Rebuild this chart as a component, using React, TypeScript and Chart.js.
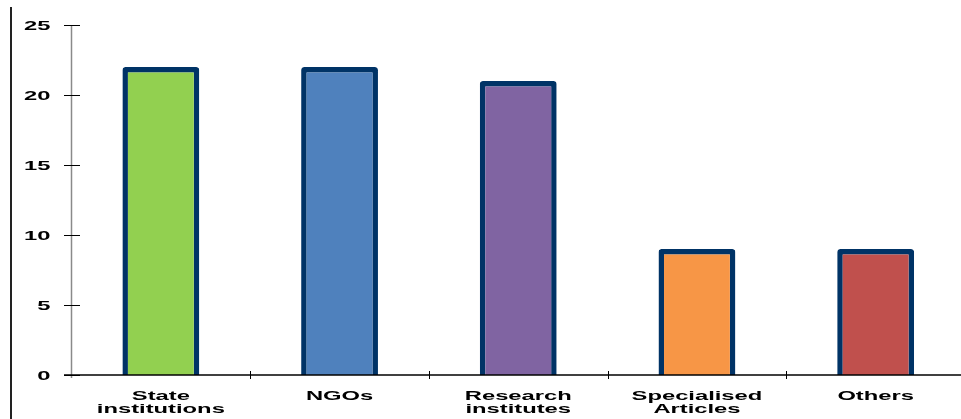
import React, { useEffect, useRef } from "react";
import { Chart, registerables } from "chart.js";

Chart.register(...registerables);

const categories: string[][] = [
  ["State", "institutions"],
  ["NGOs"],
  ["Research", "institutes"],
  ["Specialised", "Articles"],
  ["Others"],
];
const values: number[] = [22, 22, 21, 9, 9];
const barColors: string[] = ["#92D050", "#4F81BD", "#8064A2", "#F79646", "#C0504D"];
const yTicks: number[] = [0, 5, 10, 15, 20, 25];

const FONT = "bold 12.5px 'Liberation Sans', Arial, sans-serif";
const SX = 1.9;

function drawScaledText(ctx: CanvasRenderingContext2D, text: string, x: number, y: number, align: CanvasTextAlign, baseline: CanvasTextBaseline) {
  ctx.save();
  ctx.translate(x, y);
  ctx.scale(SX, 1);
  ctx.font = FONT;
  ctx.fillStyle = "#000";
  ctx.textAlign = align;
  ctx.textBaseline = baseline;
  ctx.fillText(text, 0, 0);
  ctx.restore();
}

const decorPlugin = {
  id: "decor",
  afterDatasetsDraw(chart: any) {
    const ctx: CanvasRenderingContext2D = chart.ctx;
    const { left, right, top, bottom } = chart.chartArea;
    const xs = chart.scales.x;
    const ys = chart.scales.y;
    ctx.save();
    // left frame line
    ctx.strokeStyle = "#222";
    ctx.lineWidth = 2;
    ctx.beginPath();
    ctx.moveTo(11, 7);
    ctx.lineTo(11, chart.height);
    ctx.stroke();
    // y axis line
    ctx.strokeStyle = "#8a8a8a";
    ctx.lineWidth = 1.5;
    ctx.beginPath();
    ctx.moveTo(left, top);
    ctx.lineTo(left, bottom + 3);
    ctx.stroke();
    // y tick marks + labels
    ctx.strokeStyle = "#000";
    ctx.lineWidth = 1;
    yTicks.forEach((v) => {
      const y = Math.round(ys.getPixelForValue(v)) + 0.5;
      ctx.beginPath();
      ctx.moveTo(left - 7.5, y);
      ctx.lineTo(left + 8.5, y);
      ctx.stroke();
      drawScaledText(ctx, String(v), 50.5, ys.getPixelForValue(v) + 4.5, "right", "alphabetic");
    });
    // x axis line
    ctx.strokeStyle = "#000";
    ctx.lineWidth = 1.5;
    ctx.beginPath();
    ctx.moveTo(left - 7.5, bottom);
    ctx.lineTo(chart.width, bottom);
    ctx.stroke();
    // category boundary ticks
    const n = categories.length;
    const cw = (right - left) / n;
    ctx.lineWidth = 1;
    for (let i = 1; i <= n; i++) {
      const x = Math.round(left + cw * i) + 0.5;
      ctx.beginPath();
      ctx.moveTo(x, bottom - 4);
      ctx.lineTo(x, bottom + 4);
      ctx.stroke();
    }
    // category labels
    categories.forEach((lines, i) => {
      const cx = xs.getPixelForTick(i);
      lines.forEach((t, j) => {
        drawScaledText(ctx, t, cx, 399.5 + j * 13, "center", "alphabetic");
      });
    });
    ctx.restore();
  },
};

export default function App() {
  const ref = useRef<HTMLCanvasElement | null>(null);
  useEffect(() => {
    if (!ref.current) return;
    const chart = new Chart(ref.current, {
      type: "bar",
      data: {
        labels: categories.map((c) => c.join(" ")),
        datasets: [
          {
            data: values,
            backgroundColor: barColors,
            borderColor: "#003366",
            borderWidth: 5.5,
            borderRadius: 3,
            borderSkipped: "start",
            barPercentage: 0.86,
            categoryPercentage: 0.5,
          },
        ],
      },
      options: {
        responsive: false,
        animation: false,
        layout: { padding: { left: 0, top: 25, right: 10, bottom: 0 } },
        plugins: { legend: { display: false }, tooltip: { enabled: false } },
        scales: {
          x: {
            grid: { display: false, drawTicks: false },
            border: { display: false },
            ticks: { display: false },
            afterFit: (s: any) => {
              s.height = 44;
            },
          },
          y: {
            min: 0,
            max: 25,
            ticks: { display: false, stepSize: 5 },
            grid: { display: false, drawTicks: false },
            border: { display: false },
            afterFit: (s: any) => {
              s.width = 71.5;
            },
          },
        },
      },
      plugins: [decorPlugin],
    });
    return () => chart.destroy();
  }, []);
  return (
    <div style={{ position: "absolute", left: 0, top: 0, width: 961, height: 419, overflow: "hidden", background: "#fff" }}>
      <canvas ref={ref} width={975} height={419} style={{ width: 975, height: 419, display: "block" }} />
    </div>
  );
}
